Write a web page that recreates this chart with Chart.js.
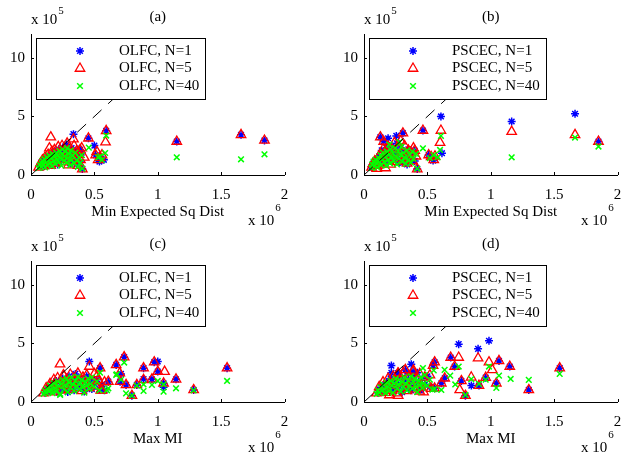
<!DOCTYPE html>
<html>
<head>
	<title>Expected cost vs heuristic</title>
	<style>
		body { margin: 0; background: #fff; overflow: hidden; width: 622px; height: 459px; position: relative; }
		.panel { position: absolute; }
	</style>
</head>
<body>
	<div class="panel" style="left:0px;top:0px"><canvas id="pa" width="311" height="229"></canvas></div>
	<div class="panel" style="left:333px;top:0px"><canvas id="pb" width="311" height="229"></canvas></div>
	<div class="panel" style="left:0px;top:227px"><canvas id="pc" width="311" height="229"></canvas></div>
	<div class="panel" style="left:333px;top:227px"><canvas id="pd" width="311" height="229"></canvas></div>

	<script src="https://cdn.jsdelivr.net/npm/chart.js"></script>
	<script type="text/javascript">

		// axes (x in units of 1e6, y in units of 1e5)
		var xTicks = [0, 0.5, 1, 1.5, 2];
		var yTicks = [0, 5, 10];
		var refLine = [[0, 0], [1.2, 12]];
		var sizes = [1, 5, 40];

		// (a) OLFC vs min expected sq dist
		var olfcDist1 = [[0.07,0.8],[0.08,1.05],[0.09,0.7],[0.1,1.2],[0.11,0.95],[0.115,1.4],[0.13,1.1],[0.14,1.6],[0.15,0.85],[0.16,1.35],[0.17,1.8],[0.18,1.2],[0.19,2.0],[0.2,1.55],[0.21,0.9],[0.22,2.2],[0.23,1.7],[0.24,1.25],[0.25,2.35],[0.26,1.9],[0.27,1.4],[0.28,2.6],[0.29,2.1],[0.3,1.6],[0.31,1.0],[0.32,2.3],[0.33,1.8],[0.34,1.3],[0.35,2.0],[0.36,0.9],[0.37,1.6],[0.38,2.2],[0.39,1.1],[0.4,1.9],
			[0.335,3.49],[0.453,3.14],[0.5,2.51],[0.387,2.14],[0.405,0.51],[0.593,3.77],[0.51,1.7],[0.545,1.49],[0.54,1.15],[0.575,1.3],[1.15,2.86],[1.657,3.43],[1.842,2.95]];
		var olfcDist5 = [[0.06,0.65],[0.075,1.0],[0.09,1.25],[0.1,0.75],[0.11,1.5],[0.12,1.05],[0.135,1.75],[0.145,1.3],[0.155,0.8],[0.165,2.0],[0.17,1.5],[0.185,2.15],[0.19,1.0],[0.2,1.75],[0.215,2.4],[0.225,1.3],[0.235,1.95],[0.245,2.5],[0.255,1.1],[0.265,2.15],[0.275,1.6],[0.285,2.7],[0.295,0.85],[0.305,2.35],[0.315,1.8],[0.325,1.2],[0.34,2.5],[0.35,1.55],[0.36,2.05],[0.37,0.8],[0.38,1.75],[0.39,1.3],[0.4,2.3],[0.42,1.5],
			[0.156,3.23],[0.145,2.29],[0.335,3.06],[0.453,3.14],[0.387,2.14],[0.405,0.51],[0.593,3.77],[0.588,2.8],[0.519,2.0],[0.51,1.7],[0.545,1.49],[0.56,1.7],[0.53,1.3],[1.15,2.86],[1.657,3.43],[1.842,2.95]];
		var olfcDist40 = [[0.06,0.6],[0.07,0.85],[0.08,0.7],[0.085,1.0],[0.09,1.2],[0.1,0.9],[0.105,1.35],[0.11,0.65],[0.12,1.1],[0.125,1.5],[0.13,0.85],[0.14,1.3],[0.145,1.65],[0.15,1.0],[0.16,1.45],[0.165,0.75],[0.17,1.8],[0.18,1.2],[0.185,1.55],[0.19,0.95],[0.2,1.9],[0.205,1.35],[0.21,1.65],[0.22,1.1],[0.225,2.05],[0.23,1.45],[0.24,0.8],[0.245,1.8],[0.25,2.2],[0.26,1.25],[0.265,1.6],[0.27,2.0],[0.28,1.05],[0.285,2.3],[0.29,1.45],[0.3,1.8],[0.31,0.85],[0.315,2.1],[0.32,1.3],[0.33,1.65],[0.34,1.0],[0.35,1.9],[0.36,1.25],[0.37,0.7],[0.38,1.5],[0.39,1.05],[0.4,1.7],
			[0.456,2.34],[0.593,3.37],[0.585,1.88],[0.56,1.28],[0.53,1.5],[0.545,1.6],[0.405,0.55],[1.15,1.51],[1.657,1.34],[1.842,1.77]];

		// (b) PSCEC vs min expected sq dist
		var pscecDist1 = [[0.06,0.7],[0.075,1.0],[0.09,0.8],[0.1,1.3],[0.11,1.05],[0.12,1.6],[0.13,0.9],[0.14,2.1],[0.15,1.3],[0.16,1.75],[0.17,1.0],[0.18,2.3],[0.19,1.5],[0.2,1.9],[0.21,1.2],[0.22,2.5],[0.23,1.6],[0.24,2.1],[0.25,1.3],[0.26,2.7],[0.27,1.8],[0.28,1.1],[0.29,2.3],[0.3,1.5],[0.31,2.0],[0.32,1.2],[0.33,1.8],[0.34,0.9],[0.35,2.2],[0.36,1.4],[0.38,1.7],[0.4,1.2],
			[0.129,3.23],[0.19,3.14],[0.307,3.57],[0.255,3.34],[0.155,2.86],[0.4,2.08],[0.42,0.51],[0.465,3.8],[0.607,5.0],[0.615,1.86],[0.51,1.71],[0.545,1.23],[0.56,1.4],[0.29,1.14],[1.165,4.57],[1.665,5.23],[1.85,2.86]];
		var pscecDist5 = [[0.06,0.65],[0.07,0.95],[0.085,1.2],[0.1,0.8],[0.11,1.45],[0.12,1.1],[0.13,1.8],[0.14,0.95],[0.15,2.2],[0.16,1.5],[0.17,2.0],[0.18,1.2],[0.19,2.45],[0.2,1.7],[0.21,0.9],[0.22,2.2],[0.23,1.4],[0.24,2.75],[0.25,1.9],[0.26,1.15],[0.27,2.4],[0.28,1.6],[0.29,2.9],[0.3,2.0],[0.31,1.3],[0.32,2.5],[0.33,1.7],[0.34,1.0],[0.35,2.1],[0.36,1.45],[0.37,1.9],[0.38,1.2],[0.39,2.3],[0.41,1.6],
			[0.129,3.23],[0.307,3.57],[0.155,2.86],[0.4,2.08],[0.42,0.51],[0.465,3.8],[0.607,3.8],[0.6,2.77],[0.51,1.71],[0.53,1.55],[0.56,1.6],[0.55,1.3],[0.1,0.55],[0.17,0.6],[1.165,3.71],[1.665,3.43],[1.85,2.86]];
		var pscecDist40 = [[0.06,0.6],[0.065,0.9],[0.075,1.15],[0.08,0.75],[0.09,1.3],[0.1,1.0],[0.105,0.65],[0.115,1.45],[0.12,1.15],[0.13,1.7],[0.135,0.85],[0.145,1.35],[0.15,1.9],[0.16,1.1],[0.165,1.55],[0.175,0.8],[0.18,2.0],[0.19,1.3],[0.195,1.7],[0.205,1.0],[0.21,2.2],[0.22,1.5],[0.23,1.85],[0.235,1.2],[0.245,2.3],[0.25,1.6],[0.26,0.9],[0.27,2.05],[0.275,1.4],[0.285,1.75],[0.295,2.4],[0.3,1.15],[0.31,1.9],[0.32,1.5],[0.33,0.95],[0.34,2.1],[0.35,1.3],[0.36,1.7],[0.37,1.05],[0.38,2.0],[0.39,1.4],[0.41,1.8],
			[0.465,2.28],[0.607,3.34],[0.6,2.14],[0.58,1.5],[0.55,1.7],[0.52,1.45],[0.2,2.6],[0.28,2.8],[0.42,0.55],[1.165,1.51],[1.665,3.2],[1.85,2.43]];

		// (c) OLFC vs max MI
		var olfcMI1 = [[0.11,0.8],[0.12,1.0],[0.14,1.2],[0.15,0.9],[0.17,1.5],[0.18,1.1],[0.2,1.8],[0.21,1.3],[0.22,0.8],[0.24,1.6],[0.25,2.0],[0.26,1.1],[0.28,1.7],[0.29,0.85],[0.3,2.2],[0.31,1.4],[0.33,1.9],[0.34,1.0],[0.35,2.4],[0.36,1.5],[0.38,2.0],[0.39,1.2],[0.41,1.8],[0.42,0.9],[0.44,2.2],[0.45,1.4],[0.47,1.9],[0.48,1.1],[0.5,1.6],[0.52,1.9],[0.54,1.1],
			[0.46,3.46],[0.545,2.89],[0.672,3.17],[0.735,3.83],[0.703,1.74],[0.61,1.74],[0.75,1.46],[0.796,0.54],[0.835,1.46],[0.888,1.95],[0.888,2.89],[0.972,3.4],[1.0,3.46],[1.0,2.6],[0.954,1.94],[1.046,1.6],[1.046,1.26],[1.144,1.94],[1.283,1.03],[1.547,2.89],[0.71,2.4],[0.56,1.5],[0.58,1.0]];
		var olfcMI5 = [[0.1,0.75],[0.12,1.2],[0.13,0.9],[0.15,1.55],[0.16,1.1],[0.18,1.9],[0.19,1.3],[0.2,0.85],[0.21,2.05],[0.23,1.5],[0.24,1.0],[0.26,2.2],[0.27,1.4],[0.28,1.85],[0.3,1.05],[0.31,2.35],[0.32,1.6],[0.34,2.0],[0.35,1.2],[0.37,2.45],[0.38,1.7],[0.4,0.95],[0.41,2.1],[0.43,1.5],[0.44,2.3],[0.46,1.2],[0.48,1.8],[0.5,2.4],[0.51,1.4],[0.53,1.9],[0.55,1.0],
			[0.229,3.23],[0.256,2.31],[0.46,3.03],[0.545,2.89],[0.672,3.17],[0.735,3.83],[0.7,2.46],[0.703,1.74],[0.61,1.74],[0.75,1.46],[0.796,0.54],[0.835,1.46],[0.888,1.89],[0.888,2.89],[0.972,3.4],[1.0,2.6],[1.054,2.6],[0.954,1.94],[1.046,1.6],[1.144,1.94],[1.283,1.03],[1.547,2.89],[0.52,2.2],[0.58,1.7],[0.56,1.0]];
		var olfcMI40 = [[0.1,0.7],[0.11,0.95],[0.12,0.8],[0.13,1.15],[0.14,0.9],[0.15,1.4],[0.16,1.05],[0.17,0.75],[0.18,1.6],[0.19,1.2],[0.2,0.9],[0.21,1.75],[0.22,1.35],[0.23,0.7],[0.24,1.55],[0.25,1.9],[0.26,1.1],[0.27,1.45],[0.28,2.0],[0.29,0.85],[0.3,1.65],[0.31,1.25],[0.32,2.1],[0.33,1.5],[0.34,0.95],[0.35,1.8],[0.36,1.35],[0.37,2.15],[0.38,1.1],[0.39,1.6],[0.4,1.9],[0.41,1.25],[0.42,0.8],[0.43,1.7],[0.44,1.4],[0.45,2.0],[0.46,1.15],[0.47,1.55],[0.48,2.1],[0.5,1.3],[0.52,1.75],[0.54,1.0],
			[0.545,2.5],[0.672,2.31],[0.735,3.37],[0.61,1.17],[0.75,0.74],[0.796,0.54],[0.835,1.4],[0.888,0.94],[0.888,1.5],[0.954,1.46],[1.0,1.8],[1.046,0.89],[1.046,1.5],[1.144,1.17],[1.283,1.0],[1.547,1.8],[0.677,2.37],[0.71,1.9],[0.6,1.0],[0.23,0.6]];

		// (d) PSCEC vs max MI
		var pscecMI1 = [[0.11,0.8],[0.12,1.1],[0.14,0.9],[0.15,1.4],[0.17,1.0],[0.18,1.7],[0.19,1.2],[0.21,2.0],[0.22,1.4],[0.23,0.9],[0.25,1.8],[0.26,1.2],[0.28,2.2],[0.29,1.5],[0.3,0.85],[0.32,1.9],[0.33,1.3],[0.35,2.4],[0.36,1.6],[0.37,1.0],[0.39,2.1],[0.4,1.4],[0.42,2.5],[0.43,1.7],[0.45,1.1],[0.46,2.0],[0.48,1.5],[0.5,2.2],[0.52,1.3],
			[0.216,3.11],[0.216,2.49],[0.373,3.23],[0.326,2.74],[0.747,4.94],[0.9,4.54],[0.986,5.23],[0.684,3.8],[1.065,3.51],[1.15,3.03],[0.557,3.4],[0.545,3.11],[0.715,3.03],[0.637,2.03],[0.61,1.6],[0.557,1.17],[0.768,1.8],[0.847,1.4],[0.907,1.4],[0.8,0.54],[0.96,2.08],[1.044,1.6],[1.3,1.03],[1.544,2.89],[0.268,2.46],[0.387,2.6],[0.44,1.0]];
		var pscecMI5 = [[0.1,0.75],[0.12,1.3],[0.13,0.9],[0.15,1.7],[0.16,1.15],[0.17,0.8],[0.19,2.0],[0.2,1.4],[0.22,1.0],[0.23,2.2],[0.24,1.6],[0.26,0.75],[0.27,2.4],[0.28,1.8],[0.3,1.2],[0.31,2.5],[0.33,1.65],[0.34,0.95],[0.36,2.2],[0.37,1.5],[0.39,2.7],[0.4,1.1],[0.42,1.9],[0.44,2.4],[0.45,1.3],[0.47,0.85],[0.48,2.1],[0.5,1.6],[0.52,2.3],[0.53,1.15],
			[0.326,2.74],[0.684,3.8],[0.747,3.8],[0.9,3.74],[1.065,3.51],[0.986,3.4],[1.012,2.74],[1.15,3.03],[0.557,3.4],[0.545,3.11],[0.715,3.03],[0.637,2.03],[0.61,1.6],[0.557,1.17],[0.768,1.8],[0.846,2.11],[0.907,1.4],[0.755,1.03],[0.8,0.54],[0.96,2.08],[1.044,1.6],[1.3,1.03],[1.544,2.89],[0.268,2.46],[0.387,2.6],[0.44,0.9],[0.2,0.6],[0.27,0.55]];
		var pscecMI40 = [[0.1,0.7],[0.11,1.0],[0.12,0.8],[0.13,1.25],[0.14,0.95],[0.15,1.5],[0.16,1.1],[0.17,0.75],[0.18,1.65],[0.19,1.3],[0.2,0.95],[0.21,1.8],[0.22,1.4],[0.23,0.8],[0.24,1.6],[0.25,2.0],[0.26,1.15],[0.27,1.5],[0.28,1.9],[0.29,0.9],[0.3,1.7],[0.31,1.3],[0.32,2.1],[0.33,1.55],[0.34,1.0],[0.35,1.85],[0.36,1.4],[0.37,2.2],[0.38,1.15],[0.39,1.7],[0.4,2.0],[0.41,1.3],[0.42,0.85],[0.43,1.8],[0.44,1.45],[0.45,2.1],[0.46,1.2],[0.47,1.6],[0.48,2.3],[0.5,1.4],[0.52,1.9],[0.54,1.05],
			[0.465,2.9],[0.747,3.03],[0.986,3.03],[0.636,2.74],[0.68,2.25],[0.61,1.03],[0.846,1.95],[0.907,1.55],[0.96,1.9],[1.044,1.2],[1.065,2.25],[1.157,1.97],[1.3,1.89],[1.544,2.4],[0.557,1.1],[0.8,0.6],[0.72,1.5],[0.55,2.7]];

		var FONT = '"Liberation Serif", "Times New Roman", serif';
		var markers = [
			{ style: 'star', radius: 4, color: '#0000ff', width: 1.5 },
			{ style: 'triangle', radius: 5.5, color: '#ff0000', width: 1.3 },
			{ style: 'crossRot', radius: 4, color: '#00ff00', width: 1.5 }
		];

		function drawMarker(ctx, m, x, y) {
			ctx.strokeStyle = m.color;
			ctx.fillStyle = 'rgba(0,0,0,0)';
			ctx.lineWidth = m.width;
			Chart.helpers.drawPoint(ctx, { pointStyle: m.style, radius: m.radius, borderWidth: m.width, rotation: 0 }, x, y);
		}

		// labels, inward ticks, exponent text and the boxed legend
		var decorate = {
			id: 'decorate',
			afterDatasetsDraw: function (chart) {
				var ctx = chart.ctx, a = chart.chartArea, p = chart.options.plugins.decorate;
				var xs = chart.scales.x, ys = chart.scales.y;
				ctx.save();

				ctx.strokeStyle = '#000';
				ctx.lineWidth = 1;
				ctx.beginPath();
				xTicks.forEach(function (v) {
					var px = Math.round(xs.getPixelForValue(v)) + 0.5;
					ctx.moveTo(px, a.bottom); ctx.lineTo(px, a.bottom - 3);
				});
				yTicks.forEach(function (v) {
					var py = Math.round(ys.getPixelForValue(v)) + 0.5;
					ctx.moveTo(a.left, py); ctx.lineTo(a.left + 3, py);
				});
				ctx.stroke();

				ctx.fillStyle = '#000';
				ctx.textBaseline = 'middle';
				ctx.textAlign = 'center';
				ctx.font = '15px ' + FONT;
				ctx.fillText(p.tag, (a.left + a.right) / 2, 17.5);
				ctx.fillText(p.xTitle, (a.left + a.right) / 2, 212.5);

				ctx.textAlign = 'left';
				ctx.fillText('x 10', a.left, 20.5);
				var w = ctx.measureText('x 10').width;
				ctx.fillText('x 10', a.right - 36.5, 221.5);
				ctx.font = '11px ' + FONT;
				ctx.fillText('5', a.left + w + 1, 11.5);
				ctx.fillText('6', a.right - 36.5 + w + 1, 208);

				// legend
				ctx.font = '15px ' + FONT;
				var labels = sizes.map(function (n) { return p.name + ', N=' + n; });
				var textW = Math.max.apply(null, labels.map(function (t) { return ctx.measureText(t).width; }));
				var bx = Math.round(a.left + 5) + 0.5, by = Math.round(a.top + 3.5) + 0.5;
				var bw = Math.round(88 + textW + 6 - 5), bh = 61;
				ctx.fillStyle = '#fff';
				ctx.fillRect(bx, by, bw, bh);
				ctx.strokeStyle = '#000';
				ctx.lineWidth = 1;
				ctx.strokeRect(bx, by, bw, bh);
				labels.forEach(function (t, i) {
					var ry = a.top + 16.5 + i * 17.5;
					drawMarker(ctx, markers[i], a.left + 49, ry);
					ctx.fillStyle = '#000';
					ctx.textAlign = 'left';
					ctx.fillText(t, a.left + 88, ry);
				});
				ctx.restore();
			}
		};

		function makePanel(id, tag, name, xTitle, series) {
			var datasets = [{
				type: 'line',
				data: refLine,
				borderColor: '#000',
				borderWidth: 1,
				borderDash: [12, 9],
				pointRadius: 0,
				fill: false
			}];
			// first dataset is drawn on top, so push green, red, blue
			for (var i = series.length - 1; i >= 0; i--) {
				datasets.push({
					data: series[i],
					pointStyle: markers[i].style,
					pointRadius: markers[i].radius,
					borderColor: markers[i].color,
					backgroundColor: 'rgba(0,0,0,0)',
					borderWidth: markers[i].width
				});
			}
			var tickFont = { family: FONT, size: 15 };
			return new Chart(id, {
				type: 'scatter',
				data: { datasets: datasets },
				options: {
					responsive: false,
					animation: false,
					events: [],
					layout: { padding: { top: 34.5, right: 26.5, left: 0, bottom: 0 } },
					scales: {
						x: {
							type: 'linear', min: 0, max: 2,
							afterBuildTicks: function (s) { s.ticks = xTicks.map(function (v) { return { value: v }; }); },
							afterFit: function (s) { s.height = 54; },
							ticks: { color: '#000', font: tickFont, padding: 11, maxRotation: 0, autoSkip: false,
								callback: function (v) { return String(v); } },
							grid: { display: true, drawOnChartArea: false, drawTicks: false },
							border: { display: true, color: '#000', width: 1 }
						},
						y: {
							type: 'linear', min: 0, max: 12,
							afterBuildTicks: function (s) { s.ticks = yTicks.map(function (v) { return { value: v }; }); },
							afterFit: function (s) { s.width = 31; },
							ticks: { color: '#000', font: tickFont, padding: 6,
								callback: function (v) { return String(v); } },
							grid: { display: true, drawOnChartArea: false, drawTicks: false },
							border: { display: true, color: '#000', width: 1 }
						}
					},
					plugins: {
						legend: { display: false },
						tooltip: { enabled: false },
						decorate: { tag: tag, name: name, xTitle: xTitle }
					}
				},
				plugins: [decorate]
			});
		}

		makePanel('pa', '(a)', 'OLFC', 'Min Expected Sq Dist', [olfcDist1, olfcDist5, olfcDist40]);
		makePanel('pb', '(b)', 'PSCEC', 'Min Expected Sq Dist', [pscecDist1, pscecDist5, pscecDist40]);
		makePanel('pc', '(c)', 'OLFC', 'Max MI', [olfcMI1, olfcMI5, olfcMI40]);
		makePanel('pd', '(d)', 'PSCEC', 'Max MI', [pscecMI1, pscecMI5, pscecMI40]);

	</script>
</body>
</html>
